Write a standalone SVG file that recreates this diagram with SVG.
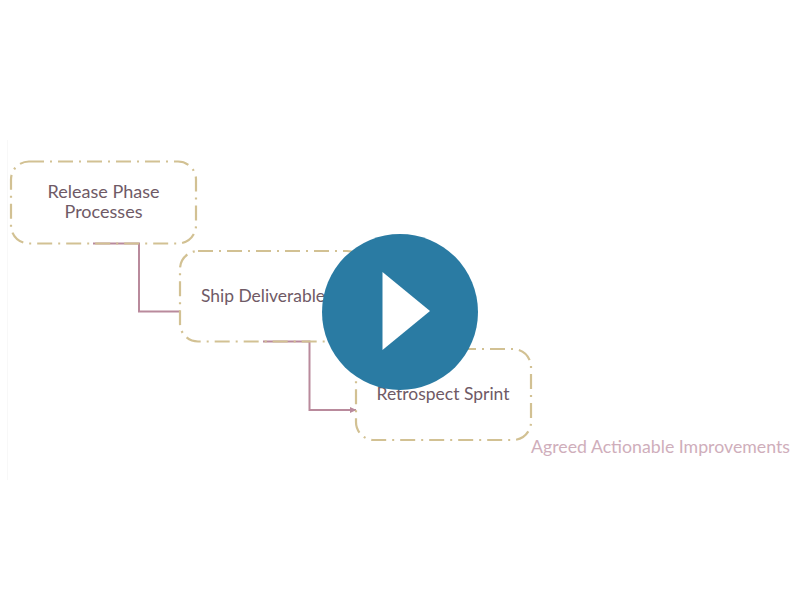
<svg xmlns="http://www.w3.org/2000/svg" width="800" height="600" viewBox="0 0 800 600">
<style>
.box{fill:none;stroke:#d2c193;stroke-width:2.2;stroke-dasharray:15 6 2 6}
.lbl{font-family:"Lato","Liberation Sans",sans-serif;font-size:16.5px;fill:#6f5a66;text-anchor:middle}
.con{fill:none;stroke:#b98a9c;stroke-width:2}
</style>
<defs><marker id="arr" markerUnits="userSpaceOnUse" markerWidth="7" markerHeight="7" refX="6" refY="3.5" orient="auto"><path d="M0 0.5L6.5 3.5L0 6.5Z" fill="#b98a9c"/></marker></defs>
<rect width="800" height="600" fill="#fff"/>
<rect x="7" y="140" width="1" height="340" fill="#f8f8f8"/>
<g id="connectors">
<path class="con" d="M93 243.500H139V311.500H180"/>
<path class="con" d="M263 341.500H309.500V410H356" marker-end="url(#arr)"/>
</g>
<g id="node-release"><rect class="box" x="11" y="161.500" width="185" height="82" rx="18"/>
<text class="lbl" x="103.500" y="198" textLength="112" lengthAdjust="spacingAndGlyphs">Release Phase</text>
<text class="lbl" x="103.500" y="218" textLength="78" lengthAdjust="spacingAndGlyphs">Processes</text></g>
<g id="node-ship"><rect class="box" x="180" y="251" width="185" height="90.500" rx="18"/>
<text class="lbl" x="263" y="301.500" textLength="124" lengthAdjust="spacingAndGlyphs">Ship Deliverable</text></g>
<g id="node-retrospect"><rect class="box" x="356" y="349" width="175" height="91" rx="18"/>
<text class="lbl" x="443" y="399.500" textLength="133" lengthAdjust="spacingAndGlyphs">Retrospect Sprint</text></g>
<text id="label-improvements" x="531" y="453" font-family="Lato,'Liberation Sans',sans-serif" font-size="17.500" fill="#cfaebb" textLength="259" lengthAdjust="spacingAndGlyphs">Agreed Actionable Improvements</text>
<g id="play"><circle cx="400" cy="312" r="78" fill="#2a7ba3"/><path d="M382.500 272L430 311L382.500 350Z" fill="#fff"/></g>
</svg>
